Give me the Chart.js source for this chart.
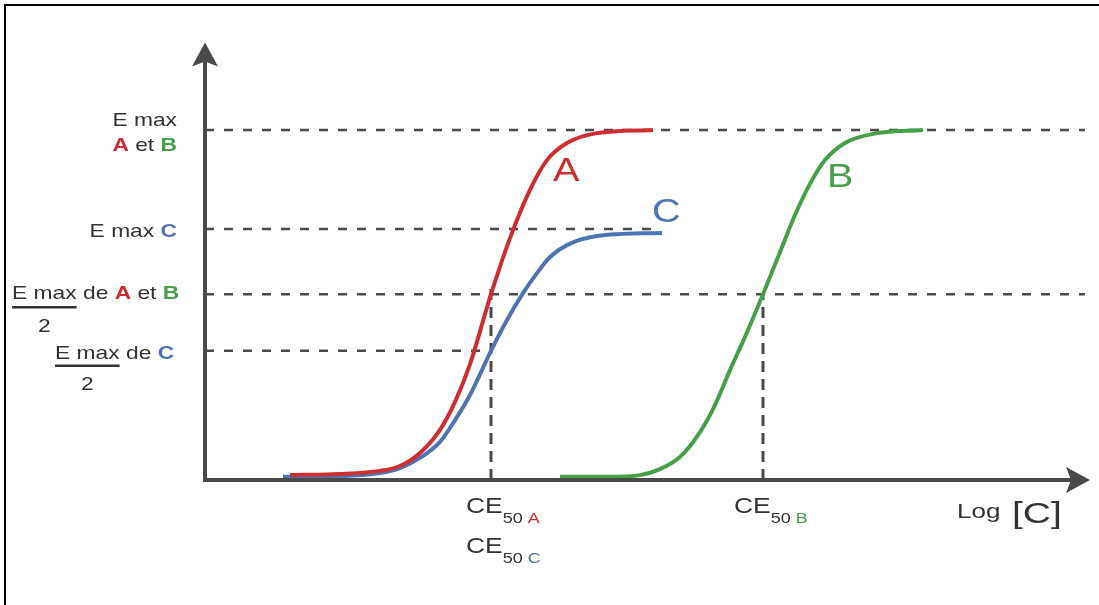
<!DOCTYPE html>
<html>
<head>
<meta charset="utf-8">
<title>Courbes effet / Log [C]</title>
<script src="https://cdn.jsdelivr.net/npm/chart.js@4.4.1/dist/chart.umd.min.js"></script>
<style>
  html, body { margin: 0; padding: 0; background: #ffffff; }
  canvas { display: block; }
</style>
</head>
<body>
<canvas id="chart" width="1099" height="605"></canvas>
<script>
// Effect levels (in % of Emax of A and B)
const EMAX_AB = 100;
const EMAX_C = 71.7;
const HALF_AB = 53.1;
const HALF_C = 36.9;

// CE50 positions on the Log [C] axis
const CE50_AC = 28.6;
const CE50_B = 55.8;

// Extent of the dashed guide lines along Log [C]
const GUIDE_END_AB = 88;
const GUIDE_END_C = 45.3;
const GUIDE_TOP_A = 55.7;

// Curve A
const curveA_x = [8.5, 13.5, 17.5, 19.5, 21.5, 23.5, 25.0, 26.5, 28.6, 30.5, 32.5, 34.2, 36.2, 39.2, 44.8];
const curveA_y = [1.4, 1.7, 2.6, 4.0, 7.7, 14.3, 22.3, 33.1, 53.1, 69.1, 82.9, 91.4, 96.3, 99.1, 100];

// Curve C
const curveC_x = [7.8, 13.5, 17.5, 19.5, 21.5, 23.5, 25.0, 26.5, 28.6, 30.2, 31.8, 33.2, 34.5, 36.2, 39.2, 45.7];
const curveC_y = [0.9, 1.1, 2.0, 3.4, 6.3, 10.9, 17.1, 24.3, 36.9, 45.7, 53.4, 59.1, 63.7, 67.1, 69.7, 70.6];

// Curve B
const curveB_x = [35.5, 40.5, 43.5, 45.5, 47.5, 49.5, 51.0, 52.5, 54.0, 55.8, 57.5, 59.0, 60.5, 62.0, 64.0, 66.8, 71.8];
const curveB_y = [0.9, 0.9, 1.4, 3.1, 6.6, 13.7, 21.4, 31.4, 40.9, 53.1, 65.1, 75.7, 84.6, 91.4, 96.3, 98.9, 100];

const RED = '#cc2e31';
const BLUE = '#4f74b3';
const GREEN = '#46a049';
const INK = '#333333';
const AXIS = '#4a4a4a';
const FONT = '"Liberation Sans", Arial, Helvetica, sans-serif';
const STRETCH = 1.2;

const toPoints = (xs, ys) => xs.map((x, i) => ({ x: x, y: ys[i] }));

function curve(label, xs, ys, color) {
  return {
    label: label,
    data: toPoints(xs, ys),
    borderColor: color,
    borderWidth: 4,
    pointRadius: 0,
    cubicInterpolationMode: 'monotone',
    fill: false,
    clip: false,
    order: 0
  };
}

function guide(label, pts, dash, width) {
  return {
    label: label,
    data: pts,
    borderColor: AXIS,
    borderWidth: width,
    borderDash: dash,
    pointRadius: 0,
    tension: 0,
    fill: false,
    clip: false,
    order: 1
  };
}

// Draw a run of text segments on one baseline, stretched horizontally
function drawRich(ctx, segs, x, y, align) {
  let total = 0;
  const widths = segs.map(s => {
    ctx.font = s.font;
    const w = ctx.measureText(s.t).width * (s.sx || STRETCH);
    total += w;
    return w;
  });
  let cx = align === 'right' ? x - total : (align === 'center' ? x - total / 2 : x);
  segs.forEach((s, i) => {
    ctx.save();
    ctx.translate(cx, y + (s.dy || 0));
    ctx.scale(s.sx || STRETCH, 1);
    ctx.font = s.font;
    ctx.fillStyle = s.color || INK;
    ctx.textBaseline = 'alphabetic';
    ctx.textAlign = 'left';
    ctx.fillText(s.t, 0, 0);
    ctx.restore();
    cx += widths[i];
  });
  return total;
}

const f = (size, bold) => (bold ? 'bold ' : '') + size + 'px ' + FONT;

const diagramPlugin = {
  id: 'diagram',
  afterDatasetsDraw(chart) {
    const ctx = chart.ctx;
    const xs = chart.scales.x, ys = chart.scales.y;
    const ox = xs.getPixelForValue(0);
    const oy = ys.getPixelForValue(0);
    const top = chart.chartArea.top;
    const right = chart.chartArea.right;

    ctx.save();
    ctx.strokeStyle = AXIS;
    ctx.fillStyle = AXIS;
    ctx.lineWidth = 4;
    ctx.lineCap = 'butt';
    // vertical axis
    ctx.beginPath();
    ctx.moveTo(ox, oy + 2);
    ctx.lineTo(ox, top + 18);
    ctx.stroke();
    ctx.beginPath();
    ctx.moveTo(ox, top);
    ctx.lineTo(ox - 13, top + 24);
    ctx.lineTo(ox, top + 19);
    ctx.lineTo(ox + 13, top + 24);
    ctx.closePath();
    ctx.fill();
    // horizontal axis
    ctx.beginPath();
    ctx.moveTo(ox - 2, oy);
    ctx.lineTo(right - 18, oy);
    ctx.stroke();
    ctx.beginPath();
    ctx.moveTo(right, oy);
    ctx.lineTo(right - 24, oy - 13);
    ctx.lineTo(right - 19, oy);
    ctx.lineTo(right - 24, oy + 13);
    ctx.closePath();
    ctx.fill();
    ctx.restore();
  },
  afterDraw(chart) {
    const ctx = chart.ctx;
    const xs = chart.scales.x, ys = chart.scales.y;

    // frame lines
    ctx.save();
    ctx.strokeStyle = '#000000';
    ctx.lineWidth = 2;
    ctx.beginPath();
    ctx.moveTo(4, 5);
    ctx.lineTo(chart.width, 5);
    ctx.moveTo(5, 4);
    ctx.lineTo(5, chart.height);
    ctx.stroke();
    ctx.restore();

    // labels of the effect levels
    const yAB = ys.getPixelForValue(EMAX_AB);
    const yC = ys.getPixelForValue(EMAX_C);
    const yHAB = ys.getPixelForValue(HALF_AB);
    const yHC = ys.getPixelForValue(HALF_C);
    const labelRight = 177;

    drawRich(ctx, [{ t: 'E max', font: f(19) }], labelRight, yAB - 4, 'right');
    drawRich(ctx, [
      { t: 'A', font: f(19, true), color: RED },
      { t: ' et ', font: f(19) },
      { t: 'B', font: f(19, true), color: GREEN }
    ], labelRight, yAB + 21, 'right');

    drawRich(ctx, [
      { t: 'E max ', font: f(19) },
      { t: 'C', font: f(19, true), color: BLUE }
    ], labelRight, yC + 8, 'right');

    function fraction(segs, x, baseline, ulOffset, twoOffset) {
      drawRich(ctx, segs, x, baseline, 'left');
      ctx.font = f(19);
      const w = ctx.measureText('E max').width * STRETCH;
      ctx.save();
      ctx.strokeStyle = INK;
      ctx.lineWidth = 2.5;
      ctx.beginPath();
      ctx.moveTo(x, baseline + ulOffset);
      ctx.lineTo(x + w, baseline + ulOffset);
      ctx.stroke();
      ctx.restore();
      drawRich(ctx, [{ t: '2', font: f(19) }], x + w / 2, baseline + twoOffset, 'center');
    }

    fraction([
      { t: 'E max', font: f(19) },
      { t: ' de ', font: f(19) },
      { t: 'A', font: f(19, true), color: RED },
      { t: ' et ', font: f(19) },
      { t: 'B', font: f(19, true), color: GREEN }
    ], 12, yHAB + 5, 8, 33);

    fraction([
      { t: 'E max', font: f(19) },
      { t: ' de ', font: f(19) },
      { t: 'C', font: f(19, true), color: BLUE }
    ], 55, yHC + 8, 7, 31);

    // CE50 labels under the axis
    function ce50(px, baseline, letter, color) {
      drawRich(ctx, [
        { t: 'CE', font: f(22) },
        { t: '50', font: f(15), dy: 10 },
        { t: ' ' + letter, font: f(15), dy: 10, color: color }
      ], px, baseline, 'left');
    }
    const xA = xs.getPixelForValue(CE50_AC);
    const xB = xs.getPixelForValue(CE50_B);
    ce50(xA - 25, 513, 'A', RED);
    ce50(xA - 25, 553, 'C', BLUE);
    ce50(xB - 29, 513, 'B', GREEN);

    // axis title
    drawRich(ctx, [{ t: 'Log', font: f(20), sx: 1.3 }], 957, 518, 'left');
    drawRich(ctx, [{ t: '[C]', font: f(30), sx: 1.3 }], 1012, 523, 'left');

    // curve names
    const names = chart.options.plugins.diagram.names;
    names.forEach(n => {
      drawRich(ctx, [{ t: n.t, font: f(33), color: n.color }],
        xs.getPixelForValue(n.x), ys.getPixelForValue(n.y), 'left');
    });
  }
};

new Chart(document.getElementById('chart'), {
  type: 'line',
  data: {
    datasets: [
      curve('A', curveA_x, curveA_y, RED),
      curve('C', curveC_x, curveC_y, BLUE),
      curve('B', curveB_x, curveB_y, GREEN),
      guide('Emax A et B', [{ x: 0, y: EMAX_AB }, { x: GUIDE_END_AB, y: EMAX_AB }], [9, 10], 2.5),
      guide('Emax C', [{ x: 0, y: EMAX_C }, { x: GUIDE_END_C, y: EMAX_C }], [9, 10], 2.5),
      guide('Emax/2 A et B', [{ x: 0, y: HALF_AB }, { x: GUIDE_END_AB, y: HALF_AB }], [9, 10], 2.5),
      guide('Emax/2 C', [{ x: 0, y: HALF_C }, { x: CE50_AC, y: HALF_C }], [9, 10], 2.5),
      guide('CE50 A', [{ x: CE50_AC, y: 0 }, { x: CE50_AC, y: GUIDE_TOP_A }], [11, 7], 3),
      guide('CE50 B', [{ x: CE50_B, y: 0 }, { x: CE50_B, y: HALF_AB }], [11, 7], 3)
    ]
  },
  options: {
    responsive: false,
    animation: false,
    events: [],
    layout: { padding: { left: 205, right: 9, top: 42.5, bottom: 125 } },
    scales: {
      x: { type: 'linear', min: 0, max: 88.5, display: false },
      y: { type: 'linear', min: 0, max: 125, display: false }
    },
    plugins: {
      legend: { display: false },
      tooltip: { enabled: false },
      diagram: {
        names: [
          { t: 'A', x: 34.8, y: 85.4, color: RED },
          { t: 'C', x: 44.7, y: 73.7, color: BLUE },
          { t: 'B', x: 62.2, y: 83.7, color: GREEN }
        ]
      }
    }
  },
  plugins: [diagramPlugin]
});
</script>
</body>
</html>
